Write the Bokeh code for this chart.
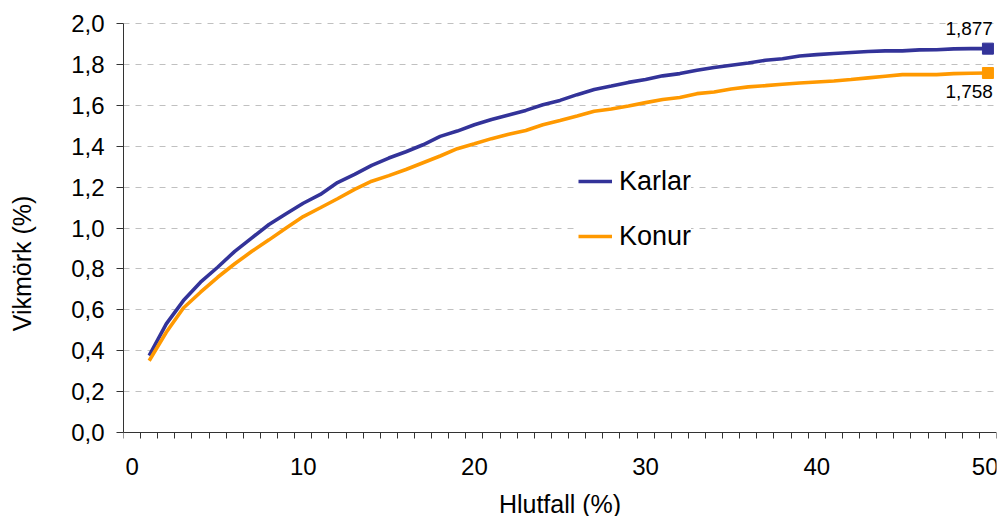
from bokeh.plotting import figure
from bokeh.models import (ColumnDataSource, Range1d, FixedTicker, CustomJSTickFormatter,
                          Legend, LegendItem, Label)
from bokeh.embed import file_html
from bokeh.resources import INLINE

# ---- data ----
hlutfall = list(range(1, 51))
karlar = [0.376, 0.531, 0.645, 0.735, 0.808, 0.886, 0.952, 1.017, 1.070, 1.121,
          1.164, 1.222, 1.262, 1.306, 1.342, 1.373, 1.407, 1.448, 1.474, 1.505,
          1.531, 1.553, 1.575, 1.603, 1.624, 1.652, 1.677, 1.694, 1.712, 1.726,
          1.744, 1.755, 1.771, 1.785, 1.796, 1.807, 1.820, 1.828, 1.841, 1.848,
          1.853, 1.858, 1.863, 1.866, 1.866, 1.871, 1.872, 1.876, 1.877, 1.877]
konur = [0.351, 0.490, 0.609, 0.686, 0.759, 0.825, 0.886, 0.942, 1.000, 1.056,
         1.099, 1.143, 1.189, 1.229, 1.256, 1.286, 1.319, 1.352, 1.388, 1.412,
         1.437, 1.458, 1.477, 1.505, 1.526, 1.548, 1.571, 1.582, 1.597, 1.613,
         1.628, 1.638, 1.657, 1.665, 1.680, 1.690, 1.696, 1.703, 1.709, 1.714,
         1.719, 1.726, 1.734, 1.742, 1.750, 1.750, 1.750, 1.755, 1.757, 1.758]
series_names = ["Karlar", "Konur"]
x_tick_labels = [0, 10, 20, 30, 40, 50]
y_ticks = [0.0, 0.2, 0.4, 0.6, 0.8, 1.0, 1.2, 1.4, 1.6, 1.8, 2.0]
x_title = "Hlutfall (%)"
y_title = "Vikmörk (%)"

BLUE = "#333399"
ORANGE = "#FF9900"
FONT = "Liberation Sans"

src = ColumnDataSource(dict(x=hlutfall, karlar=karlar, konur=konur))

# frame spans from top of canvas margin to its bottom; the x axis is fixed at 0,0
PX_PER_UNIT = 204.5
y_top = y_ticks[-1] + 13 / PX_PER_UNIT
y_bot = y_ticks[0] - 84 / PX_PER_UNIT
p = figure(width=998, height=516, output_backend="svg", toolbar_location=None,
           x_range=Range1d(-0.5, 50.5), y_range=Range1d(y_bot, y_top),
           min_border_left=123, min_border_right=2, min_border_top=10, min_border_bottom=0)
p.outline_line_color = None
p.background_fill_color = "white"

# lines
r1 = p.line("x", "karlar", source=src, line_color=BLUE, line_width=3.6)
r2 = p.line("x", "konur", source=src, line_color=ORANGE, line_width=3.6)

# end markers
p.scatter([hlutfall[-1]], [karlar[-1]], marker="square", size=11, color=BLUE)
p.scatter([hlutfall[-1]], [konur[-1]], marker="square", size=11, color=ORANGE)

# end labels
p.add_layout(Label(x=hlutfall[-1], y=karlar[-1], text=f"{karlar[-1]:.3f}".replace(".", ","),
                   text_align="right", text_baseline="alphabetic", x_offset=5, y_offset=20,
                   text_font=FONT, text_font_size="19px", text_color="black"))
p.add_layout(Label(x=hlutfall[-1], y=konur[-1], text=f"{konur[-1]:.3f}".replace(".", ","),
                   text_align="right", text_baseline="alphabetic", x_offset=5, y_offset=-19,
                   text_font=FONT, text_font_size="19px", text_color="black"))

# x axis (fixed at y = 0)
minor = [v - 0.5 for v in range(0, 52)]
p.xaxis.fixed_location = y_ticks[0]
p.xaxis.ticker = FixedTicker(ticks=x_tick_labels, minor_ticks=minor)
p.xaxis.major_tick_out = 0
p.xaxis.major_tick_in = 0
p.xaxis.minor_tick_out = 6
p.xaxis.minor_tick_in = 0
p.xaxis.major_label_standoff = 19
p.xaxis.axis_label = x_title
p.xaxis.axis_label_standoff = 12

# y axis
p.yaxis.ticker = FixedTicker(ticks=y_ticks)
p.yaxis.bounds = (y_ticks[0], y_ticks[-1])
p.yaxis.formatter = CustomJSTickFormatter(code="return tick.toFixed(1).replace('.', ',')")
p.yaxis.major_tick_out = 7
p.yaxis.major_tick_in = 0
p.yaxis.minor_tick_out = 0
p.yaxis.minor_tick_in = 0
p.yaxis.major_label_standoff = 12
p.yaxis.axis_label = y_title
p.yaxis.axis_label_standoff = 32

for ax in (p.xaxis, p.yaxis):
    ax.axis_line_color = "#333333"
    ax.major_tick_line_color = "#333333"
    ax.minor_tick_line_color = "#333333"
    ax.major_label_text_font = FONT
    ax.major_label_text_font_size = "24px"
    ax.major_label_text_color = "black"
    ax.axis_label_text_font = FONT
    ax.axis_label_text_font_size = "25px"
    ax.axis_label_text_font_style = "normal"
    ax.axis_label_text_color = "black"

p.xgrid.grid_line_color = None
p.ygrid.grid_line_color = "#c0c0c0"
p.ygrid.grid_line_dash = "6 6"
p.ygrid.grid_line_width = 1

legend = Legend(items=[LegendItem(label=series_names[0], renderers=[r1]),
                       LegendItem(label=series_names[1], renderers=[r2])],
                location=(455, 264), orientation="vertical",
                padding=12, margin=0, spacing=23,
                glyph_width=34, glyph_height=32, label_height=32, label_standoff=7,
                label_text_font=FONT, label_text_font_size="27px", label_text_color="black",
                border_line_color=None, background_fill_color="white", background_fill_alpha=1.0)
p.add_layout(legend)

open("out.html", "w").write(file_html(p, INLINE))
